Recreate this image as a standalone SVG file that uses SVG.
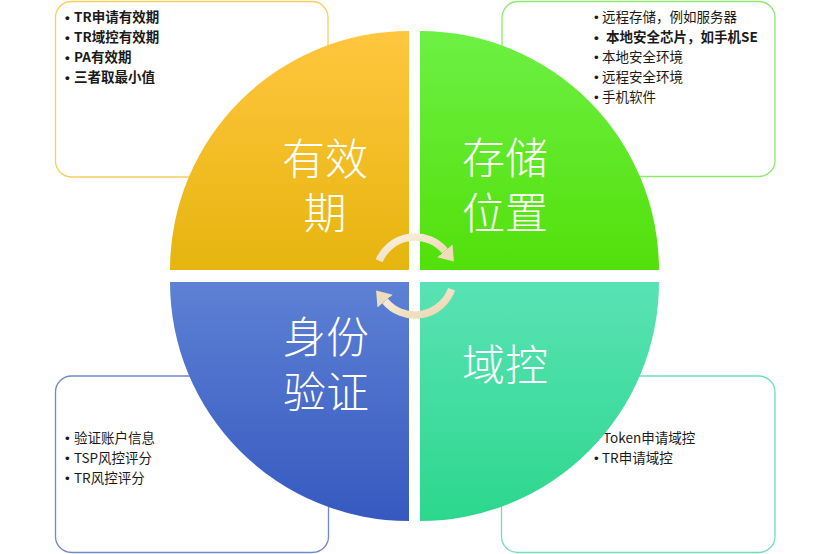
<svg xmlns="http://www.w3.org/2000/svg" width="830" height="554" viewBox="0 0 830 554">
<defs>
<linearGradient id="gY" x1="0" y1="0" x2="0" y2="1"><stop offset="0" stop-color="#FFC63F"/><stop offset="1" stop-color="#E6B50E"/></linearGradient>
<linearGradient id="gG" x1="0" y1="0" x2="0" y2="1"><stop offset="0" stop-color="#6DF044"/><stop offset="1" stop-color="#52E00A"/></linearGradient>
<linearGradient id="gB" x1="0" y1="0" x2="0" y2="1"><stop offset="0" stop-color="#5D81D4"/><stop offset="1" stop-color="#3659C0"/></linearGradient>
<linearGradient id="gT" x1="0" y1="0" x2="0" y2="1"><stop offset="0" stop-color="#5AE2B5"/><stop offset="1" stop-color="#2CD78D"/></linearGradient>
<linearGradient id="gA" x1="0" y1="0" x2="1" y2="1"><stop offset="0" stop-color="#FBF2E0"/><stop offset="1" stop-color="#EAD5AE"/></linearGradient>
<marker id="ah" markerUnits="userSpaceOnUse" markerWidth="17" markerHeight="22" refX="0" refY="11" orient="auto" viewBox="0 0 17 22">
<path d="M0,1 L14,11 L0,21 Z" fill="#EEDDBA"/>
</marker>
</defs>
<style>
.box{fill:#fff;stroke-width:1.3}
.q{stroke:none}
.lbl{font-family:"Noto Sans CJK SC","Noto Sans",sans-serif;font-size:43px;font-weight:300;fill:#fff;text-anchor:middle}
.t{font-family:"Noto Sans CJK SC","Noto Sans",sans-serif;font-size:13.5px;fill:#1a1a1a}
.d{font-family:"Liberation Sans",Arial,sans-serif;font-size:13.5px;fill:#1a1a1a}
.b{font-weight:bold}
.arc{fill:none;stroke:url(#gA);stroke-width:7.5;marker-end:url(#ah)}
</style>
<g id="box-validity">
<rect class="box" x="55.5" y="1.5" width="272.5" height="175.5" rx="16" stroke="#F6CD5E"/>
<text class="d b" x="65" y="22">•</text><text class="t b" x="74" y="22">TR申请有效期</text>
<text class="d b" x="65" y="42">•</text><text class="t b" x="74" y="42">TR域控有效期</text>
<text class="d b" x="65" y="62">•</text><text class="t b" x="74" y="62">PA有效期</text>
<text class="d b" x="65" y="82">•</text><text class="t b" x="74" y="82">三者取最小值</text>
</g>
<g id="box-storage">
<rect class="box" x="502" y="1.5" width="273" height="175" rx="16" stroke="#8DE86C"/>
<text class="d" x="594" y="22">•</text><text class="t" x="602" y="22">远程存储，例如服务器</text>
<text class="d b" x="594" y="42">•</text><text class="t b" x="606" y="42">本地安全芯片，如手机SE</text>
<text class="d" x="594" y="62">•</text><text class="t" x="602" y="62">本地安全环境</text>
<text class="d" x="594" y="82">•</text><text class="t" x="602" y="82">远程安全环境</text>
<text class="d" x="594" y="102">•</text><text class="t" x="602" y="102">手机软件</text>
</g>
<g id="box-auth">
<rect class="box" x="55.5" y="376" width="273" height="176.5" rx="16" stroke="#7088CE"/>
<text class="d" x="65" y="443">•</text><text class="t" x="74" y="443">验证账户信息</text>
<text class="d" x="65" y="463">•</text><text class="t" x="74" y="463">TSP风控评分</text>
<text class="d" x="65" y="483">•</text><text class="t" x="74" y="483">TR风控评分</text>
</g>
<g id="box-domain">
<rect class="box" x="501.5" y="376" width="273.5" height="176.5" rx="16" stroke="#72DEB8"/>
<text class="d" x="594" y="443">•</text><text class="t" x="603" y="443">Token申请域控</text>
<text class="d" x="594" y="463">•</text><text class="t" x="602" y="463">TR申请域控</text>
</g>
<g id="q-validity">
<path class="q" d="M409,270 L170,270 A239,239 0 0 1 409,31 Z" fill="url(#gY)"/>
<text class="lbl" x="325" y="175"><tspan x="325" y="175">有效</tspan><tspan x="325" y="229">期</tspan></text>
</g>
<g id="q-storage">
<path class="q" d="M420,270 L420,31 A239,239 0 0 1 659,270 Z" fill="url(#gG)"/>
<text class="lbl" x="505" y="174"><tspan x="505" y="174">存储</tspan><tspan x="505" y="229">位置</tspan></text>
</g>
<g id="q-auth">
<path class="q" d="M409,282 L409,521 A239,239 0 0 1 170,282 Z" fill="url(#gB)"/>
<text class="lbl" x="326" y="353"><tspan x="326" y="353">身份</tspan><tspan x="326" y="408">验证</tspan></text>
</g>
<g id="q-domain">
<path class="q" d="M420,282 L659,282 A239,239 0 0 1 420,521 Z" fill="url(#gT)"/>
<text class="lbl" x="505" y="381">域控</text>
</g>
<g id="connectors">
<path class="arc" d="M379.1,260.8 A39,39 0 0 1 444.9,250.9"/>
<path class="arc" d="M451.6,289.3 A39,39 0 0 1 385.1,301.1"/>
</g>
</svg>
